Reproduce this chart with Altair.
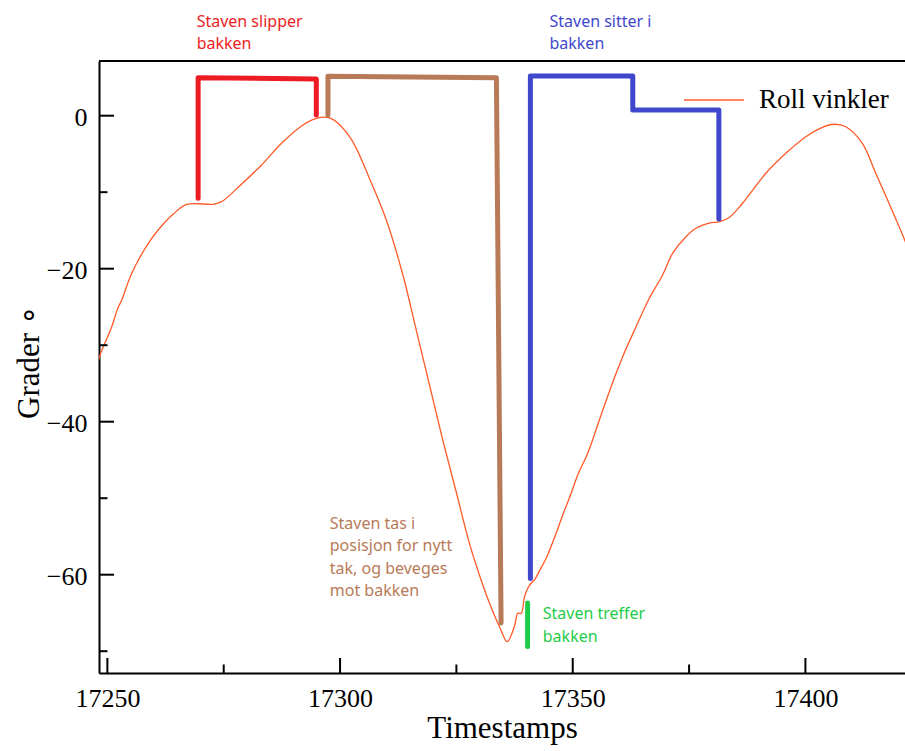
import altair as alt
import pandas as pd

# ---------------- data ----------------
timestamps = [17248.0, 17248.43, 17250.94, 17252.23, 17253.09, 17255.24, 17258.80, 17262.02,
              17264.16, 17267.04, 17272.75, 17274.55, 17278.11, 17283.13, 17287.42, 17291.72,
              17294.0, 17296.3, 17298.0, 17299.5, 17302.6, 17306.37, 17309.96, 17313.52, 17316.39,
              17319.25, 17322.10, 17324.98, 17327.83, 17330.69, 17332.12, 17333.56, 17334.27,
              17335.92, 17337.49, 17338.20, 17338.93, 17339.64, 17340.34, 17341.07, 17341.78,
              17342.85, 17344.29, 17346.44, 17347.85, 17349.66, 17351.07, 17353.22, 17355.73,
              17358.24, 17360.73, 17363.61, 17366.46, 17369.31, 17371.46, 17374.33, 17376.48,
              17379.70, 17381.12, 17383.63, 17386.48, 17391.50, 17395.79, 17400.09, 17403.65,
              17406.16, 17408.67, 17412.23, 17415.11, 17417.96, 17421.18, 17422.5]
roll = [-32.2, -31.28, -27.58, -25.18, -24.09, -20.60, -16.68, -14.16,
        -12.85, -11.58, -11.58, -11.24, -9.36, -6.44, -3.61, -1.35,
        -0.55, -0.18, -0.35, -0.95, -3.25, -8.26, -13.66, -20.86, -28.07,
        -35.27, -42.47, -49.22, -55.97, -61.37, -63.74, -65.87, -66.80,
        -68.76, -66.71, -65.05, -65.05, -62.88, -61.78, -61.12, -60.69,
        -59.5, -57.86, -54.59, -52.20, -49.36, -46.97, -44.13, -39.78,
        -35.42, -31.50, -27.58, -23.87, -20.82, -17.99, -15.82, -14.72,
        -13.99, -13.9, -13.3, -11.45, -7.53, -4.92, -2.75, -1.52,
        -1.12, -1.44, -3.61, -7.53, -11.45, -16.03, -18.2]
series_name = "Roll vinkler"

# hand-drawn annotation brackets
red_x = [17269.5, 17269.5, 17294.9, 17294.9]
red_y = [-10.8, 4.97, 4.8, 0.1]
brown_x = [17297.4, 17297.4, 17333.6, 17334.6]
brown_y = [0.1, 5.15, 4.95, -66.3]
blue_x = [17340.9, 17340.9, 17362.9, 17362.9, 17381.4, 17381.4]
blue_y = [-60.5, 5.2, 5.2, 0.75, 0.75, -13.5]
green_x = [17340.3, 17340.3]
green_y = [-63.7, -69.4]

# annotation texts (anchor = baseline of first line, left aligned)
note_texts = ["Staven slipper\nbakken", "Staven sitter i\nbakken",
              "Staven tas i\nposisjon for nytt\ntak, og beveges\nmot bakken",
              "Staven treffer\nbakken"]
note_x = [17269.18, 17345.0, 17297.79, 17343.56]
note_y = [11.63, 11.63, -54.0, -65.8]
note_colors = ["#ed1c24", "#3f48cc", "#b97a57", "#1fcc4a"]

x_major = [17250, 17300, 17350, 17400]
x_minor = [17275, 17325, 17375]
y_major = [0, -20, -40, -60]
y_minor = [-10, -30, -50, -70]

x_domain = [17248.2, 17421.4]
y_domain = [-72.85, 7.15]

W, H = 806, 612
SERIF = "Liberation Serif"
SANS = "Noto Sans"

# ---------------- encodings ----------------
x_scale = alt.Scale(domain=x_domain, nice=False, zero=False)
y_scale = alt.Scale(domain=y_domain, nice=False, zero=False)

x_axis = alt.Axis(values=x_major, format="d", ticks=False, tickSize=0, grid=False,
                  domainColor="black", domainWidth=2, labelFont=SERIF, labelFontSize=26,
                  labelColor="black", labelPadding=12, labelFlush=False, labelOverlap=False,
                  titleFont=SERIF, titleFontSize=31, titleFontWeight="normal", titleColor="black",
                  titleX=W / 2, titleY=64, titleBaseline="alphabetic", titleAlign="center")
y_axis = alt.Axis(values=y_major, format="d", ticks=False, tickSize=0, grid=False,
                  domainColor="black", domainWidth=2, labelFont=SERIF, labelFontSize=26,
                  labelColor="black", labelPadding=12, labelOffset=2, labelFlush=False,
                  labelOverlap=False, titleFont=SERIF, titleFontSize=31, titleFontWeight="normal",
                  titleColor="black", titleAngle=270, titleX=-70, titleY=H / 2 - 5,
                  titleBaseline="middle", titleAlign="center")


def X(field="x"):
    return alt.X(f"{field}:Q", scale=x_scale, axis=x_axis, title="Timestamps")


def Y(field="y"):
    return alt.Y(f"{field}:Q", scale=y_scale, axis=y_axis, title="Grader ∘")


# ---------------- layers ----------------
df_roll = pd.DataFrame({"x": timestamps, "y": roll, "series": series_name})
roll_line = alt.Chart(df_roll).mark_line(strokeWidth=1.3, interpolate="catmull-rom", clip=True).encode(
    x=X(), y=Y(),
    color=alt.Color("series:N",
                    scale=alt.Scale(domain=[series_name], range=["#ff5a28"]),
                    legend=alt.Legend(title=None, orient="none", legendX=584, legendY=8,
                                      symbolType="stroke", symbolSize=3600, symbolStrokeWidth=1.3,
                                      labelFont=SERIF, labelFontSize=27, labelColor="black",
                                      labelOffset=14, padding=0, labelLimit=400)),
)


def bracket(xs, ys, color, width=5):
    d = pd.DataFrame({"x": xs, "y": ys, "o": list(range(len(xs)))})
    return alt.Chart(d).mark_line(strokeWidth=width, strokeCap="round", strokeJoin="round",
                                  color=color).encode(x=X(), y=Y(), order=alt.Order("o:Q"))


brackets = [bracket(red_x, red_y, note_colors[0]),
            bracket(brown_x, brown_y, note_colors[2]),
            bracket(blue_x, blue_y, note_colors[1]),
            bracket(green_x, green_y, note_colors[3])]

texts = []
for t, xv, yv, c in zip(note_texts, note_x, note_y, note_colors):
    d = pd.DataFrame({"x": [xv], "y": [yv], "t": [t]})
    texts.append(alt.Chart(d).mark_text(align="left", baseline="alphabetic", font=SANS,
                                        fontSize=16, lineHeight=22.5, lineBreak="\n",
                                        color=c).encode(x=X(), y=Y(), text="t:N"))

# inward ticks
xt_major = alt.Chart(pd.DataFrame({"x": x_major})).mark_rule(color="black", strokeWidth=2).encode(
    x=X(), y=alt.value(H), y2=alt.value(H - 15))
xt_minor = alt.Chart(pd.DataFrame({"x": x_minor})).mark_rule(color="black", strokeWidth=2).encode(
    x=X(), y=alt.value(H), y2=alt.value(H - 8.5))
yt_major = alt.Chart(pd.DataFrame({"y": y_major})).mark_rule(color="black", strokeWidth=2).encode(
    y=Y(), x=alt.value(0), x2=alt.value(15))
yt_minor = alt.Chart(pd.DataFrame({"y": y_minor})).mark_rule(color="black", strokeWidth=2).encode(
    y=Y(), x=alt.value(0), x2=alt.value(8.5))
top_border = alt.Chart(pd.DataFrame({"y": [y_domain[1]]})).mark_rule(color="black", strokeWidth=2).encode(
    y=Y(), x=alt.value(0), x2=alt.value(W))

chart = alt.layer(roll_line, *brackets, *texts, xt_major, xt_minor, yt_major, yt_minor, top_border).properties(
    width=W, height=H,
    autosize=alt.AutoSizeParams(type="none"),
    padding={"left": 99, "top": 61, "right": 0, "bottom": 78},
    background="white",
).configure_view(stroke=None)

chart.save("out.html", embed_options={"renderer": "svg", "actions": False})
